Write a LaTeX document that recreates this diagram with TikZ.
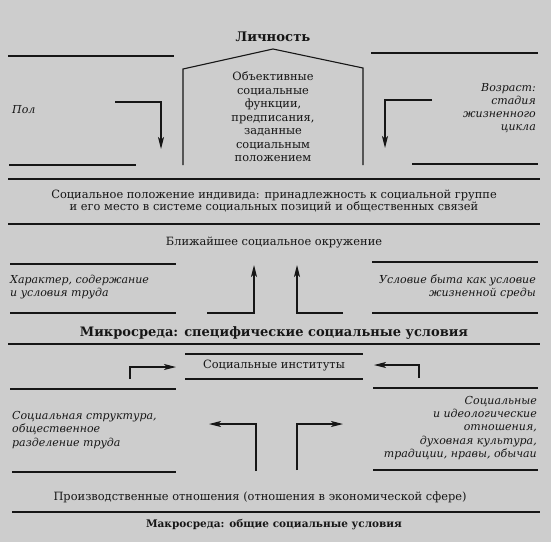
\documentclass[tikz,border=0pt]{standalone}
\usepackage{fontspec}
\setmainfont{DejaVu Serif}
\usetikzlibrary{arrows.meta}
\definecolor{paper}{RGB}{205,205,205}
\definecolor{ink}{RGB}{22,22,22}

\begin{document}
\begin{tikzpicture}[x=1pt, y=-1pt, ink,
  font=\fontsize{11.4}{13.5}\selectfont,
  rule/.style={line width=1.4pt},
  flow/.style={line width=1.1pt, -{Stealth[length=12pt,width=6pt,inset=3pt]}},
  txt/.style={inner sep=0pt, align=center},
  side/.style={inner sep=0pt, font=\fontsize{11}{13.2}\selectfont\itshape},
  head/.style={inner sep=0pt, font=\fontsize{13}{15}\selectfont\bfseries}]
  \fill[paper] (0,0) rectangle (551,542);
  \useasboundingbox (0,0) rectangle (551,542);

  % personality and its house
  \node[head, font=\fontsize{13.2}{15}\selectfont\bfseries] (person) at (273,37) {Личность};
  \draw[line width=1.1pt] (183,165) -- (183,69) -- (273,49) -- (363,68) -- (363,165);
  \node[txt] (roles) at (273,117) {Объективные\\социальные\\функции,\\предписания,\\заданные\\социальным\\положением};
  \node[side, anchor=west] (sex) at (12,110) {Пол};
  \node[side, anchor=east, align=right] (age) at (536,108) {Возраст:\\стадия\\жизненного\\цикла};
  \coordinate (sex1) at (115,102); \coordinate (sex2) at (161,149);
  \coordinate (age1) at (432,100); \coordinate (age2) at (385,148);
  \draw[flow] (sex1) -| (sex2);
  \draw[flow] (age1) -| (age2);
  \draw[rule] (8,56) -- (174,56);
  \draw[rule] (371,53) -- (538,53);
  \draw[rule] (9,165) -- (136,165);
  \draw[rule] (412,164) -- (538,164);
  \draw[rule] (8,179) -- (540,179);

  % social status
  \node[txt, font=\fontsize{11.4}{12.5}\selectfont] (status) at (274,201) {Социальное положение индивида: принадлежность к социальной группе\\и его место в системе социальных позиций и общественных связей};
  \draw[rule] (8,224) -- (540,224);
  \node[txt] (near) at (274,243) {Ближайшее социальное окружение};
  \draw[rule] (10,264) -- (176,264);
  \draw[rule] (372,262) -- (538,262);
  \node[side, anchor=west, align=left] (work) at (10,287) {Характер, содержание\\и условия труда};
  \node[side, anchor=east, align=right] (life) at (536,287) {Условие быта как условие\\жизненной среды};
  \draw[rule] (10,313) -- (176,313);
  \draw[rule] (372,313) -- (538,313);
  \coordinate (work1) at (207,313); \coordinate (work2) at (254,265);
  \coordinate (life1) at (343,313); \coordinate (life2) at (297,265);
  \draw[flow] (work1) -| (work2);
  \draw[flow] (life1) -| (life2);

  % micro environment
  \node[head] (micro) at (274,333) {Микросреда: специфические социальные условия};
  \draw[rule] (8,344) -- (540,344);
  \draw[rule] (185,354) -- (363,354);
  \draw[rule] (185,379) -- (363,379);
  \node[txt] (inst) at (274,366) {Социальные институты};
  \coordinate (st1) at (130,379); \coordinate (st2) at (176,367);
  \coordinate (id1) at (419,378); \coordinate (id2) at (374,365);
  \draw[flow] (st1) |- (st2);
  \draw[flow] (id1) |- (id2);
  \draw[rule] (10,389) -- (176,389);
  \draw[rule] (373,388) -- (538,388);
  \node[side, anchor=west, align=left] (struct) at (12,430) {Социальная структура,\\общественное\\разделение труда};
  \node[side, anchor=east, align=right] (ideo) at (537,428) {Социальные\\и идеологические\\отношения,\\духовная культура,\\традиции, нравы, обычаи};
  \coordinate (pr1) at (256,471); \coordinate (pr2) at (209,424);
  \coordinate (pr3) at (297,470); \coordinate (pr4) at (343,424);
  \draw[flow] (pr1) |- (pr2);
  \draw[flow] (pr3) |- (pr4);
  \draw[rule] (12,472) -- (176,472);
  \draw[rule] (373,470) -- (538,470);

  % macro environment
  \node[txt] (prod) at (260,497) {Производственные отношения (отношения в экономической сфере)};
  \draw[rule] (12,512) -- (540,512);
  \node[head, font=\fontsize{10.5}{12}\selectfont\bfseries] (macro) at (274,525) {Макросреда: общие социальные условия};
\end{tikzpicture}
\end{document}
